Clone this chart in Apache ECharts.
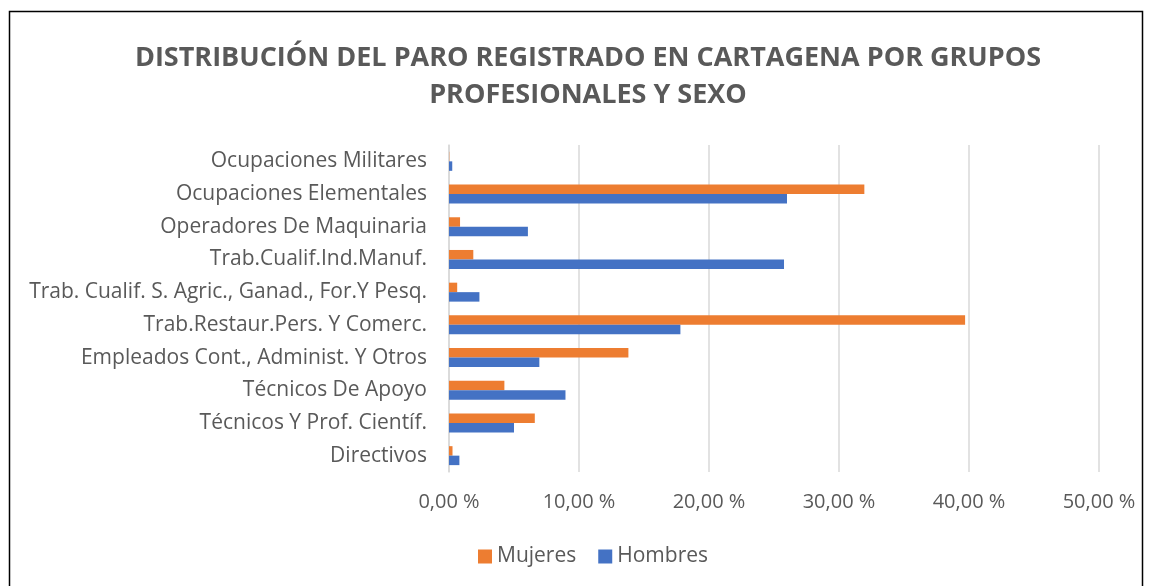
<!DOCTYPE html>
<html>
<head>
<meta charset="utf-8">
<script src="https://cdn.jsdelivr.net/npm/echarts@6/dist/echarts.min.js"></script>
<style>
  html, body { margin: 0; padding: 0; background: #fff; }
  #chart { width: 1153px; height: 586px; }
</style>
</head>
<body>
<div id="chart"></div>
<script>
// categorías de abajo hacia arriba (como en el eje de ECharts)
const categorias = [
  'Directivos',
  'Técnicos Y Prof. Científ.',
  'Técnicos De Apoyo',
  'Empleados Cont., Administ. Y Otros',
  'Trab.Restaur.Pers. Y Comerc.',
  'Trab. Cualif. S. Agric., Ganad., For.Y Pesq.',
  'Trab.Cualif.Ind.Manuf.',
  'Operadores De Maquinaria',
  'Ocupaciones Elementales',
  'Ocupaciones Militares'
];
const mujeres = [0.27, 6.6, 4.26, 13.8, 39.7, 0.63, 1.87, 0.85, 31.95, 0.02];
const hombres = [0.8, 5.0, 8.96, 6.95, 17.8, 2.34, 25.77, 6.07, 26.0, 0.25];
const ticksX = [0, 10, 20, 30, 40, 50];

const fuente = '"Open Sans", "DejaVu Sans", sans-serif';
const gris = '#595959';

function fmtPct(v) {
  return v.toFixed(2).replace('.', ',') + ' %';
}

const chart = echarts.init(document.getElementById('chart'));
chart.setOption({
  animation: false,
  backgroundColor: '#fff',
  title: {
    text: 'DISTRIBUCIÓN DEL PARO REGISTRADO EN CARTAGENA POR GRUPOS\nPROFESIONALES Y SEXO',
    left: 583,
    textAlign: 'center',
    top: 35,
    textStyle: {
      fontFamily: fuente,
      fontSize: 27,
      fontWeight: 'bold',
      color: gris,
      lineHeight: 37
    }
  },
  graphic: [{
    type: 'rect',
    shape: { x: 9.5, y: 11.5, width: 1133, height: 620 },
    style: { fill: 'none', stroke: '#000', lineWidth: 1.5 },
    silent: true
  }],
  legend: {
    data: ['Mujeres', 'Hombres'],
    top: 541,
    left: 473,
    itemWidth: 14,
    itemHeight: 14,
    itemGap: 22,
    icon: 'rect',
    textStyle: { fontFamily: fuente, fontSize: 21, color: gris }
  },
  grid: { left: 449, right: 54, top: 145, height: 327 },
  xAxis: {
    type: 'value',
    min: ticksX[0],
    max: ticksX[ticksX.length - 1],
    interval: 10,
    axisLine: { show: false },
    axisTick: { show: false },
    splitLine: { lineStyle: { color: '#d9d9d9', width: 1.5 } },
    axisLabel: {
      formatter: fmtPct,
      fontFamily: fuente,
      fontSize: 20,
      color: gris,
      margin: 20
    }
  },
  yAxis: {
    type: 'category',
    data: categorias,
    axisLine: { lineStyle: { color: '#d9d9d9', width: 1.5 } },
    axisTick: { show: false },
    axisLabel: {
      fontFamily: fuente,
      fontSize: 21,
      color: gris,
      margin: 22
    }
  },
  series: [
    {
      name: 'Mujeres',
      type: 'bar',
      data: mujeres,
      itemStyle: { color: '#ed7d31' },
      barGap: '0%',
      barCategoryGap: '42%'
    },
    {
      name: 'Hombres',
      type: 'bar',
      data: hombres,
      itemStyle: { color: '#4472c4' },
      barGap: '0%',
      barCategoryGap: '42%'
    }
  ]
});
</script>
</body>
</html>
